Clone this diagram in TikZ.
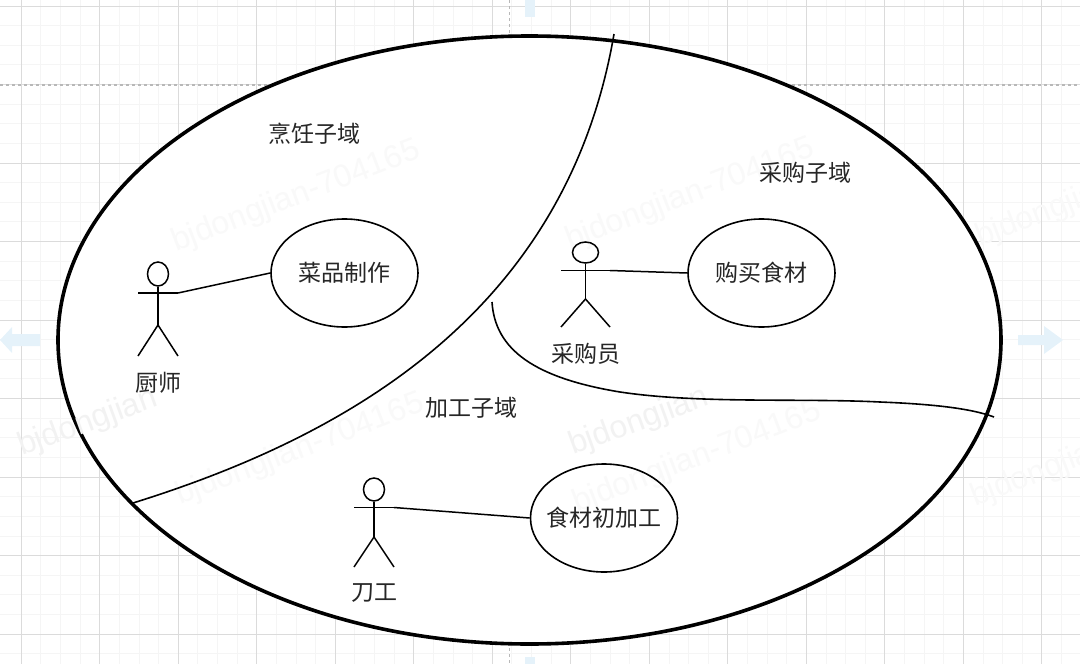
\documentclass[tikz,border=0pt]{standalone}
\usepackage{fontspec}
\setmainfont{Noto Sans CJK SC}
\newfontfamily\markfont{Liberation Sans}
\definecolor{gridminor}{rgb}{0.96,0.96,0.96}
\definecolor{gridmajor}{rgb}{0.86,0.86,0.86}
\definecolor{hintblue}{rgb}{0.90,0.95,0.98}
\tikzset{
  limb/.style={line width=1.5pt,black},
  domainline/.style={line width=1.6pt,black},
  usecase/.style={draw,ellipse,line width=1.6pt,minimum width=147pt,minimum height=108pt,inner sep=-15pt,font=\fontsize{23}{23}\selectfont,text=black!85},
  head/.style={draw,ellipse,line width=1.5pt,inner sep=0pt},
  caption/.style={font=\fontsize{23}{23}\selectfont,text=black!85},
  watermark/.style={font=\markfont\fontsize{32}{32}\selectfont,text=black!2.5,rotate=21},
  darkmark/.style={font=\markfont\fontsize{32}{32}\selectfont,text=black!5,rotate=20},
}
\usetikzlibrary{shapes.geometric}

\begin{document}
\begin{tikzpicture}[x=1pt,y=-1pt]
\useasboundingbox (0,0) rectangle (1080,664);

% paper
\foreach \x in {1,...,55} \draw[gridminor,line width=1pt] (1.6+19.63*\x,0) -- (1.6+19.63*\x,664);
\foreach \y in {0,...,34} \draw[gridminor,line width=1pt] (0,6+19.63*\y) -- (1080,6+19.63*\y);
\foreach \x in {0,...,13} \draw[gridmajor,line width=1pt] (21.2+78.5*\x,0) -- (21.2+78.5*\x,664);
\foreach \y in {0,...,8} \draw[gridmajor,line width=1pt] (0,6+78.5*\y) -- (1080,6+78.5*\y);
\draw[gridmajor!70!black!70,line width=1.2pt,dashed] (0,85) -- (1080,85);
\draw[gridmajor!70!black!70,line width=1.2pt,dashed] (509.5,0) -- (509.5,664);

% arrows of the canvas
\fill[hintblue] (0,340) -- (12,327) -- (12,334) -- (40,334) -- (40,346) -- (12,346) -- (12,353) -- cycle;
\fill[hintblue] (1063,340) -- (1044,326) -- (1044,335) -- (1018,335) -- (1018,345) -- (1044,345) -- (1044,354) -- cycle;
\fill[hintblue] (525,0) rectangle (535,17);
\fill[hintblue] (525,657) rectangle (535,664);
\node[watermark] (mark7) at (1100,192) {bjdongjian-704165};
\node[watermark] (mark8) at (1095,452) {bjdongjian-704165};

% big domain
\node[draw,fill=white,ellipse,line width=3.6pt,minimum width=943pt,minimum height=608pt,inner sep=0pt] (domain) at (529.5,340) {};

% watermarks
\node[watermark] (mark1) at (296,197) {bjdongjian-704165};
\node[darkmark] (mark2) at (88,423) {bjdongjian};
\node[watermark] (mark3) at (300,450) {bjdongjian-704165};
\node[darkmark] (mark4) at (639,422) {bjdongjian};
\node[watermark] (mark5) at (697,458) {bjdongjian-704165};
\node[watermark] (mark6) at (690,195) {bjdongjian-704165};

% borders of the subdomains
\draw[domainline] (614,34) .. controls (565,320) and (335,440) .. (133,503);
\draw[domainline] (492,302) .. controls (495,350) and (535,378) .. (620,392) .. controls (700,404) and (800,398) .. (880,402) .. controls (930,404) and (970,408) .. (994,417);

% subdomain names
\node[caption] (cooktitle) at (314,134) {烹饪子域};
\node[caption] (buytitle) at (805,173) {采购子域};
\node[caption] (worktitle) at (471,408) {加工子域};

% use cases
\node[usecase] (dishes) at (344.5,273) {菜品制作};
\node[usecase] (purchase) at (761.5,273) {购买食材};
\node[usecase] (prepare) at (604,518) {食材初加工};

% actors
\foreach \name/\x/\y/\w/\arm/\hip/\foot/\rx/\ry/\label in {
  cook/158/274/20/19/51/82/21/24/厨师,
  buyer/585.5/252.5/24.5/18/46.5/74.5/26/21/采购员,
  cutter/374/489.5/20/18/47.5/77.5/21/23/刀工}{
  \node[head,minimum width=\rx pt,minimum height=\ry pt] (\name) at (\x,\y) {};
  \draw[limb] (\name.south) -- (\x,\y+\hip);
  \draw[limb] (\x-\w,\y+\arm) -- (\x+\w,\y+\arm) coordinate (\name hand);
  \draw[limb] (\x-\w,\y+\foot) -- (\x,\y+\hip) -- (\x+\w,\y+\foot);
  \node[caption] (\name label) at (\x+0.5,\y+\foot+26.5) {\label};
}

\draw[limb] (cookhand) -- (dishes.west);
\draw[limb] (buyerhand) -- (purchase.west);
\draw[limb] (cutterhand) -- (prepare.west);

\end{tikzpicture}
\end{document}
